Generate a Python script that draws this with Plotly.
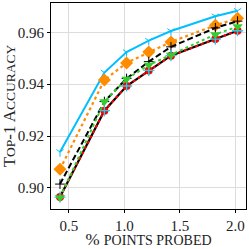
import plotly.graph_objects as go

x = [0.42, 0.82, 1.02, 1.22, 1.42, 1.82, 2.02]
cyan_vals = [0.9139, 0.9445, 0.9524, 0.9568, 0.9605, 0.9662, 0.9683]
orange_vals = [0.9072, 0.9416, 0.9482, 0.9524, 0.9563, 0.9627, 0.9654]
black_dash_vals = [0.9015, 0.9333, 0.9422, 0.9487, 0.9544, 0.9617, 0.9643]
red_vals = [0.8965, 0.9298, 0.9393, 0.9453, 0.9510, 0.9574, 0.9606]
black_solid_vals = [0.8965, 0.9298, 0.9393, 0.9453, 0.9510, 0.9574, 0.9606]
green_vals = [0.8963, 0.9333, 0.9420, 0.9474, 0.9513, 0.9592, 0.9622]

x_ticks = [0.5, 1.0, 1.5, 2.0]
y_ticks = [0.90, 0.92, 0.94, 0.96]

fig = go.Figure()
fig.add_trace(go.Scatter(x=x, y=cyan_vals, mode="lines+markers",
                         line=dict(color="#00bfff", width=2),
                         marker=dict(symbol="y-down-open", size=6, color="#00bfff",
                                     line=dict(color="#00bfff", width=1))))
fig.add_trace(go.Scatter(x=x, y=orange_vals, mode="lines+markers",
                         line=dict(color="#ff8c00", width=2.2, dash="dot"),
                         marker=dict(symbol="diamond", size=10, color="#ff8c00")))
fig.add_trace(go.Scatter(x=x, y=black_dash_vals, mode="lines+markers",
                         line=dict(color="black", width=2, dash="6px,3px"),
                         marker=dict(symbol="cross-thin-open", size=7,
                                     line=dict(color="black", width=1))))
fig.add_trace(go.Scatter(x=x, y=black_solid_vals, mode="lines",
                         line=dict(color="black", width=2.2)))
fig.add_trace(go.Scatter(x=x, y=red_vals, mode="lines+markers",
                         line=dict(color="#ff0000", width=2, dash="3px,3px"),
                         marker=dict(symbol="circle", size=8, color="#ff0000")))
fig.add_trace(go.Scatter(x=x, y=black_solid_vals, mode="markers",
                         marker=dict(symbol="cross-thin-open", size=8,
                                     line=dict(color="black", width=1.3))))
fig.add_trace(go.Scatter(x=x, y=green_vals, mode="lines+markers",
                         line=dict(color="#32cd32", width=2, dash="dot"),
                         marker=dict(symbol="triangle-down", size=9, color="#32cd32")))

font_family = "Liberation Serif, DejaVu Serif, serif"
txt = "#222222"
fig.update_layout(
    width=249, height=249,
    margin=dict(l=45, r=2, t=2, b=34),
    paper_bgcolor="white", plot_bgcolor="white",
    showlegend=False,
    font=dict(family=font_family, size=15, color=txt),
)
fig.update_xaxes(
    range=[0.339, 2.096], tickvals=x_ticks, ticktext=["0.5", "1.0", "1.5", "2.0"],
    showgrid=True, gridcolor="#dcdcdc", gridwidth=1,
    showline=True, linecolor="black", linewidth=1, mirror=True,
    ticks="outside", ticklen=3, tickcolor="black",
    tickfont=dict(size=15, color=txt),
    zeroline=False,
    title=dict(text="% <span style='font-size:14px'>POINTS PROBED</span>",
               standoff=1, font=dict(family=font_family, size=17, color=txt)),
)
fig.update_yaxes(
    range=[0.8919, 0.9713], tickvals=y_ticks, ticktext=["0.90", "0.92", "0.94", "0.96"],
    showgrid=True, gridcolor="#dcdcdc", gridwidth=1,
    showline=True, linecolor="black", linewidth=1, mirror=True,
    ticks="outside", ticklen=3, tickcolor="black",
    tickfont=dict(size=15, color=txt),
    zeroline=False,
    title=dict(text="T<span style='font-size:13.5px'>OP</span>-1 A<span style='font-size:13.5px'>CCURACY</span>",
               standoff=4, font=dict(family=font_family, size=17, color=txt)),
)

fig.write_html("out.html", config={"displayModeBar": False},
               post_script="document.body.style.margin='0';document.body.style.padding='0';")
